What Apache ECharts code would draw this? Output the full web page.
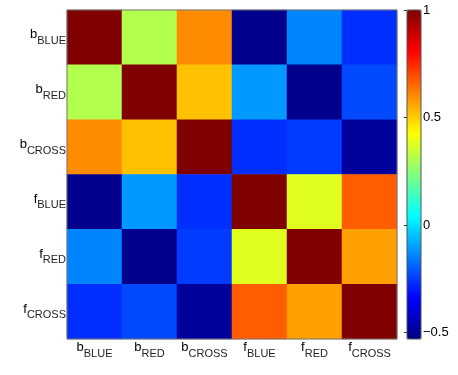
<!DOCTYPE html>
<html>
<head>
<meta charset="utf-8">
<script src="https://cdn.jsdelivr.net/npm/echarts@6/dist/echarts.min.js"></script>
<style>
  html, body { margin: 0; padding: 0; background: #fff; }
  #chart { width: 458px; height: 375px; }
</style>
</head>
<body>
<div id="chart"></div>
<script>
// variable names as [main letter, subscript]
const names = [
  ["b", "BLUE"], ["b", "RED"], ["b", "CROSS"],
  ["f", "BLUE"], ["f", "RED"], ["f", "CROSS"]
];

// correlation matrix, row by row (top to bottom)
const rowBBlue  = [1.00, 0.31, 0.60, -0.51, -0.14, -0.27];
const rowBRed   = [0.31, 1.00, 0.52, -0.11, -0.51, -0.23];
const rowBCross = [0.60, 0.52, 1.00, -0.27, -0.25, -0.49];
const rowFBlue  = [-0.51, -0.11, -0.27, 1.00, 0.38, 0.67];
const rowFRed   = [-0.14, -0.51, -0.25, 0.38, 1.00, 0.57];
const rowFCross = [-0.27, -0.23, -0.49, 0.67, 0.57, 1.00];
const rows = [rowBBlue, rowBRed, rowBCross, rowFBlue, rowFRed, rowFCross];

const colorTicks = [1, 0.5, 0, -0.5];
const colorMin = -0.53;
const colorMax = 1;

// jet colormap stops
const jet = ["#000080", "#0000ff", "#0080ff", "#00ffff", "#80ff80",
             "#ffff00", "#ff8000", "#ff0000", "#800000"];

const FONT = "Liberation Sans, Arial, sans-serif";

const cats = names.map((n, i) => String(i));
const data = [];
rows.forEach((r, yi) => r.forEach((v, xi) => data.push([xi, yi, v])));

const rich = {
  m: { fontSize: 13, fontFamily: FONT, color: "#000", verticalAlign: "top" },
  s: { fontSize: 11, fontFamily: FONT, color: "#222", padding: [7, 0, 0, 0], verticalAlign: "bottom" }
};
const fmt = (v) => {
  const n = names[+v];
  return "{m|" + n[0] + "}{s|" + n[1] + "}";
};

const chart = echarts.init(document.getElementById("chart"));
chart.setOption({
  animation: false,
  grid: [
    { left: 67, top: 10, width: 330, height: 329, show: true, z: 5,
      backgroundColor: "transparent", borderColor: "#777", borderWidth: 1 },
    { left: 407, top: 10, width: 14, height: 329, show: true, z: 5,
      backgroundColor: "transparent", borderColor: "#555", borderWidth: 1 }
  ],
  xAxis: [
    { type: "category", gridIndex: 0, data: cats,
      axisLine: { show: false }, axisTick: { show: false }, splitLine: { show: false },
      axisLabel: { interval: 0, margin: 2, formatter: fmt, rich: rich } },
    { type: "value", gridIndex: 1, min: 0, max: 1, show: false }
  ],
  yAxis: [
    { type: "category", gridIndex: 0, data: cats, inverse: true,
      axisLine: { show: false }, axisTick: { show: false }, splitLine: { show: false },
      axisLabel: { interval: 0, margin: 1, formatter: fmt, rich: rich } },
    { type: "value", gridIndex: 1, min: colorMin, max: colorMax, position: "right",
      axisLine: { show: false }, splitLine: { show: false },
      axisTick: { show: true, inside: true, length: 3, customValues: colorTicks,
                  lineStyle: { color: "#333" } },
      axisLabel: { customValues: colorTicks, margin: 2, fontSize: 13, fontFamily: FONT,
                   color: "#000", formatter: (v) => String(v).replace("-", "\u2212") } }
  ],
  visualMap: {
    type: "continuous", seriesIndex: 0, min: colorMin, max: colorMax,
    calculable: false, show: true, text: null, z: -1,
    left: 407, top: 10, itemWidth: 14, itemHeight: 329, padding: 0,
    inRange: { color: jet }
  },
  series: [{
    type: "heatmap", xAxisIndex: 0, yAxisIndex: 0, data: data,
    itemStyle: { borderWidth: 0 }, emphasis: { disabled: true }
  }]
});
</script>
</body>
</html>
